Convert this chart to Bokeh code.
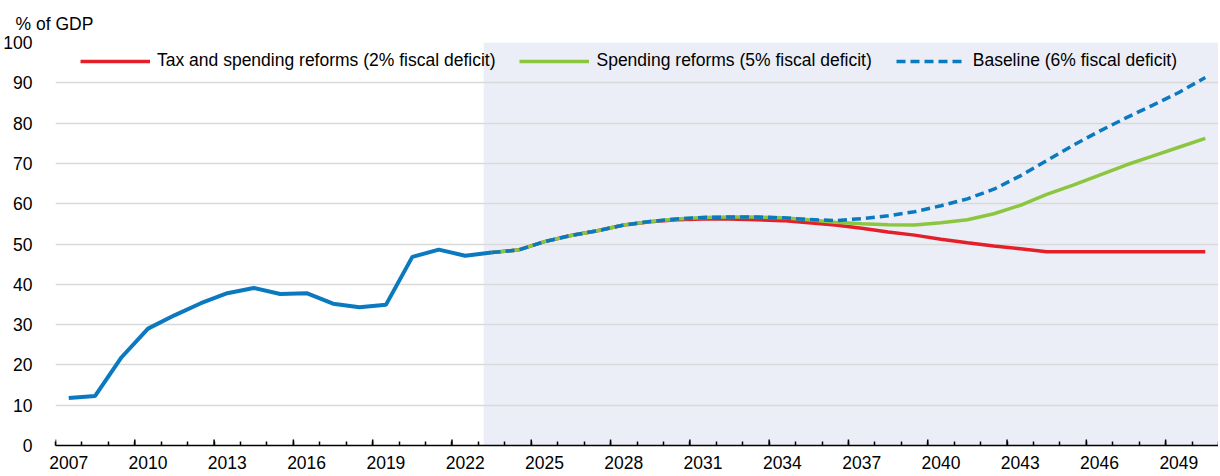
from bokeh.plotting import figure
from bokeh.models import (FixedTicker, BoxAnnotation, Legend, LegendItem,
                          Range1d, ColumnDataSource)
from bokeh.embed import file_html
from bokeh.resources import INLINE

# ---------------- data ----------------
hist_years = list(range(2007, 2024))
hist_values = [11.8, 12.3, 21.9, 29.0, 32.3, 35.3, 37.8, 39.1, 37.6, 37.8,
               35.2, 34.3, 34.9, 46.8, 48.6, 47.1, 47.9]

proj_years = list(range(2023, 2051))
tax_spending = [47.9, 48.5, 50.6, 52.1, 53.3, 54.7, 55.5, 56.0, 56.2, 56.2,
                56.0, 55.8, 55.3, 54.7, 53.9, 53.0, 52.2, 51.2, 50.3, 49.5,
                48.8, 48.1, 48.1, 48.1, 48.1, 48.1, 48.1, 48.1]
spending = [47.9, 48.5, 50.6, 52.1, 53.3, 54.7, 55.6, 56.2, 56.6, 56.7,
            56.7, 56.5, 56.0, 55.4, 55.0, 54.8, 54.7, 55.3, 56.0, 57.5,
            59.6, 62.3, 64.6, 67.1, 69.6, 71.8, 74.0, 76.2]
baseline = [47.9, 48.5, 50.6, 52.1, 53.3, 54.7, 55.6, 56.2, 56.6, 56.7,
            56.7, 56.5, 56.1, 55.8, 56.3, 57.0, 58.0, 59.5, 61.2, 63.6,
            66.9, 70.7, 74.5, 78.0, 81.3, 84.4, 87.6, 91.3]

series_labels = ["Tax and spending reforms (2% fiscal deficit)",
                 "Spending reforms (5% fiscal deficit)",
                 "Baseline (6% fiscal deficit)"]
x_label_years = list(range(2007, 2050, 3))
all_years = list(range(2007, 2051))
y_ticks = list(range(0, 101, 10))
projection_start = 2022.7
unit_label = "% of GDP"

# ---------------- style ----------------
FONT = "Liberation Sans"
FS = "17.5px"
RED = "#E3202A"
GREEN = "#8CC63F"
BLUE = "#0A79C0"
SHADE = "#EBEEF6"

FRAME_H = 403

p = figure(frame_width=1163, frame_height=FRAME_H,
           x_range=Range1d(2006.5, 2050.5), y_range=Range1d(0, 100),
           output_backend="svg", toolbar_location=None,
           min_border_left=47, min_border_right=0,
           min_border_top=42, min_border_bottom=26,
           outline_line_color=None, background_fill_color="white",
           border_fill_color="white")

p.title.text = unit_label
p.title.text_font = FONT
p.title.text_font_size = FS
p.title.text_font_style = "normal"
p.title.text_color = "black"
p.title.align = "left"
p.title.offset = -40
p.title.standoff = 18

shade = BoxAnnotation(left=projection_start, fill_color=SHADE, fill_alpha=1.0,
                      line_color=None, level="image")
p.add_layout(shade)

# x axis: labels centred on years, small ticks on every year boundary
boundaries = [y - 0.5 for y in all_years] + [all_years[-1] + 0.5]
p.xaxis.ticker = FixedTicker(ticks=x_label_years, minor_ticks=boundaries)
p.xaxis.major_tick_in = 0
p.xaxis.major_tick_out = 0
p.xaxis.minor_tick_in = 4
p.xaxis.minor_tick_out = 0
p.xaxis.minor_tick_line_color = "black"
p.xaxis.minor_tick_line_width = 1.5
p.xaxis.axis_line_color = "black"
p.xaxis.axis_line_width = 1.5
p.xaxis.major_label_standoff = 10
p.xaxis.major_label_text_font = FONT
p.xaxis.major_label_text_font_size = FS
p.xaxis.major_label_text_color = "black"

p.yaxis.ticker = FixedTicker(ticks=y_ticks)
p.yaxis.axis_line_color = None
p.yaxis.major_tick_line_color = None
p.yaxis.minor_tick_line_color = None
p.yaxis.major_label_standoff = 17
p.yaxis.major_label_text_font = FONT
p.yaxis.major_label_text_font_size = FS
p.yaxis.major_label_text_color = "black"

p.xgrid.visible = False
p.ygrid.ticker = FixedTicker(ticks=y_ticks)
p.ygrid.grid_line_color = "#D9D9D9"
p.ygrid.grid_line_width = 1.5

# taller ticks on the boundary before each labelled year
tall_x = [y - 0.5 for y in x_label_years]
p.segment(x0=tall_x, y0=[0] * len(tall_x), x1=tall_x, y1=[1.5] * len(tall_x),
          line_color="black", line_width=1.5)

# lines
src_p = ColumnDataSource(dict(x=proj_years, tax=tax_spending, sp=spending, base=baseline))
src_h = ColumnDataSource(dict(x=hist_years, y=hist_values))

r_red = p.line("x", "tax", source=src_p, line_color=RED, line_width=3.5)
r_green = p.line("x", "sp", source=src_p, line_color=GREEN, line_width=3.5)
r_blue = p.line("x", "base", source=src_p, line_color=BLUE, line_width=3.5,
                line_dash="9 5")
p.line("x", "y", source=src_h, line_color=BLUE, line_width=4)

legend = Legend(items=[LegendItem(label=series_labels[0], renderers=[r_red]),
                       LegendItem(label=series_labels[1], renderers=[r_green]),
                       LegendItem(label=series_labels[2], renderers=[r_blue])],
                orientation="horizontal", location=(25, FRAME_H - 29),
                glyph_width=70, glyph_height=20, label_standoff=7, spacing=24,
                padding=0, margin=0, background_fill_alpha=0,
                border_line_alpha=0, label_text_font=FONT,
                label_text_font_size=FS, label_text_color="black")
p.add_layout(legend)

open("out.html", "w").write(file_html(p, INLINE))
